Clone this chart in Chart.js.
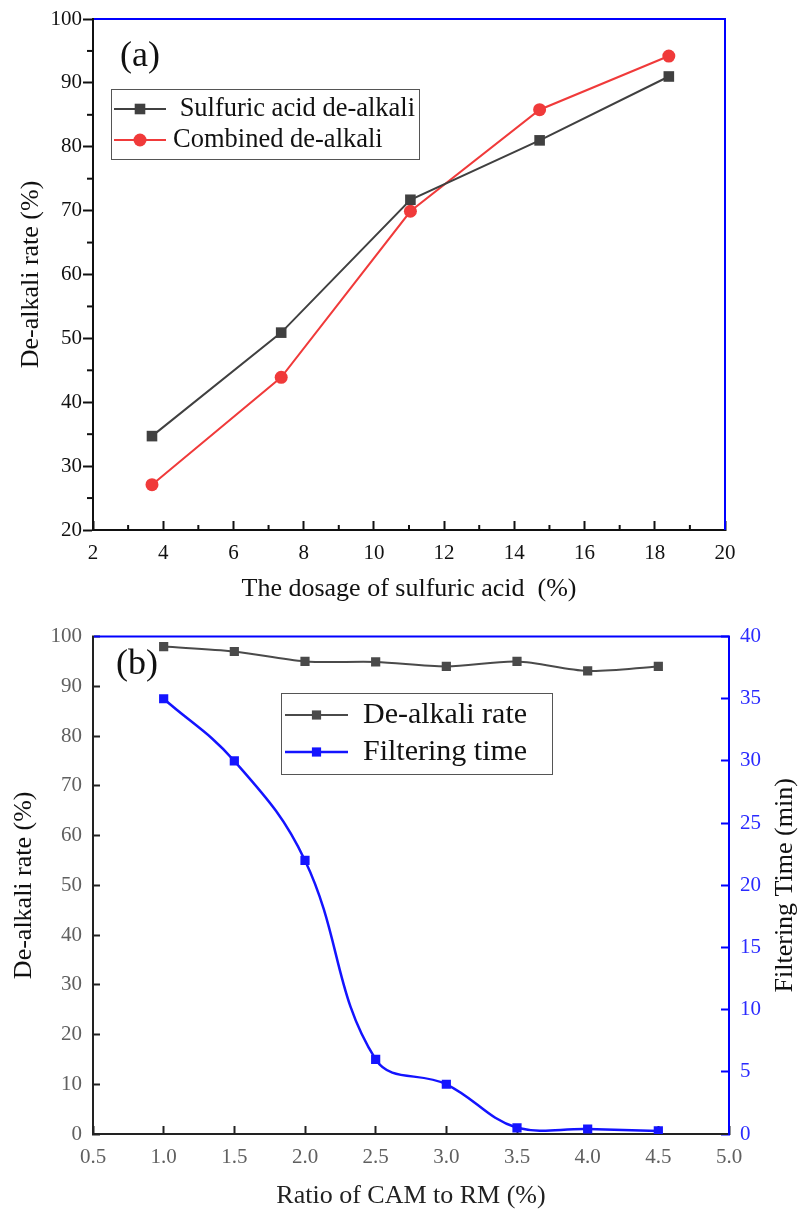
<!DOCTYPE html>
<html>
<head>
<meta charset="utf-8">
<script src="https://cdn.jsdelivr.net/npm/chart.js@4.4.0/dist/chart.umd.min.js"></script>
<style>
html, body { margin: 0; padding: 0; background: #fff; }
canvas { display: block; }
</style>
</head>
<body>
<canvas id="chartA" width="799" height="605"></canvas>
<canvas id="chartB" width="799" height="607"></canvas>
<script>
// (a) de-alkali rate vs sulfuric acid dosage
var dosage = [3.68, 7.36, 11.04, 14.72, 18.4];
var sulfuricRate = [34.7, 50.9, 71.7, 81.0, 91.0];
var combinedRate = [27.1, 43.9, 69.9, 85.8, 94.2];

// (b) de-alkali rate and filtering time vs CAM ratio
var ratio = [1.0, 1.5, 2.0, 2.5, 3.0, 3.5, 4.0, 4.5];
var dealkaliRate = [98.0, 97.0, 95.0, 94.9, 94.0, 95.0, 93.1, 94.0];
var filterTime = [35.0, 30.0, 22.0, 6.0, 4.0, 0.5, 0.4, 0.25];

const serif = "'Liberation Serif', 'Times New Roman', serif";
const blue = '#0000ff';

function points(xs, ys) {
    return xs.map(function(x, i) { return {x: x, y: ys[i]}; });
}

// blue top/right frame lines
const framePlugin = {
    id: 'frame',
    afterDraw(chart, args, opts) {
        const a = chart.chartArea, ctx = chart.ctx;
        ctx.save();
        ctx.strokeStyle = blue;
        ctx.lineWidth = 2;
        ctx.beginPath();
        ctx.moveTo(a.left + 1, a.top);
        ctx.lineTo(a.right, a.top);
        if (opts.right) ctx.lineTo(a.right, a.bottom);
        ctx.stroke();
        ctx.restore();
    }
};

const minorTicks = {
    id: 'minorTicks',
    afterDraw(chart, args, opts) {
        const ctx = chart.ctx, a = chart.chartArea;
        ctx.save();
        ctx.strokeStyle = '#111';
        ctx.lineWidth = 2;
        (opts.axes || []).forEach(function(m) {
            const s = chart.scales[m.id];
            for (let v = m.from; v <= m.to + 1e-9; v += m.step) {
                ctx.beginPath();
                if (s.isHorizontal()) {
                    const x = s.getPixelForValue(v);
                    ctx.moveTo(x, a.bottom);
                    ctx.lineTo(x, a.bottom - m.len);
                } else {
                    const y = s.getPixelForValue(v);
                    ctx.moveTo(a.left, y);
                    ctx.lineTo(a.left - m.len, y);
                }
                ctx.stroke();
            }
        });
        ctx.restore();
    }
};

const boxLegend = {
    id: 'boxLegend',
    afterDraw(chart, args, o) {
        const ctx = chart.ctx;
        ctx.save();
        ctx.fillStyle = '#fff';
        ctx.fillRect(o.x, o.y, o.w, o.h);
        ctx.strokeStyle = '#555';
        ctx.lineWidth = 1;
        ctx.strokeRect(o.x + 0.5, o.y + 0.5, o.w, o.h);
        ctx.font = o.size + 'px ' + serif;
        ctx.textBaseline = 'middle';
        o.rows.forEach(function(r) {
            const ds = chart.data.datasets[r.ds];
            ctx.strokeStyle = ds.borderColor;
            ctx.lineWidth = ds.borderWidth;
            ctx.beginPath();
            ctx.moveTo(o.lineX1, r.y);
            ctx.lineTo(o.lineX2, r.y);
            ctx.stroke();
            const cx = (o.lineX1 + o.lineX2) / 2;
            ctx.fillStyle = ds.pointBackgroundColor;
            ctx.beginPath();
            if (ds.pointStyle === 'circle') {
                ctx.arc(cx, r.y, ds.pointRadius, 0, Math.PI * 2);
            } else {
                const h = ds.pointRadius * Math.SQRT1_2;
                ctx.rect(cx - h, r.y - h, 2 * h, 2 * h);
            }
            ctx.fill();
            ctx.fillStyle = '#111';
            ctx.fillText(r.text, o.textX, r.y);
        });
        ctx.restore();
    }
};

const extraText = {
    id: 'extraText',
    afterDraw(chart, args, opts) {
        const ctx = chart.ctx, a = chart.chartArea;
        ctx.save();
        ctx.fillStyle = '#111';
        ctx.textBaseline = 'middle';
        ctx.textAlign = 'center';
        ctx.font = '36px ' + serif;
        ctx.fillText(opts.panel, opts.panelX, opts.panelY);
        if (opts.rightTitle) {
            ctx.font = '26px ' + serif;
            ctx.translate(opts.rightX, (a.top + a.bottom) / 2);
            ctx.rotate(-Math.PI / 2);
            ctx.fillText(opts.rightTitle, 0, 0);
        }
        ctx.restore();
    }
};

Chart.register(framePlugin, minorTicks, boxLegend, extraText);

new Chart(document.getElementById('chartA'), {
    type: 'line',
    data: {
        datasets: [{
            label: 'Sulfuric acid de-alkali',
            data: points(dosage, sulfuricRate),
            borderColor: '#404040',
            backgroundColor: '#404040',
            pointBackgroundColor: '#404040',
            pointBorderWidth: 0,
            borderWidth: 2,
            pointStyle: 'rect',
            pointRadius: 7.5,
            tension: 0
        }, {
            label: 'Combined de-alkali',
            data: points(dosage, combinedRate),
            borderColor: '#f03a3a',
            backgroundColor: '#f03a3a',
            pointBackgroundColor: '#f03a3a',
            pointBorderWidth: 0,
            borderWidth: 2,
            pointStyle: 'circle',
            pointRadius: 6.5,
            tension: 0
        }]
    },
    options: {
        responsive: false,
        animation: false,
        layout: { padding: { top: 19, right: 74, left: 0, bottom: 0 } },
        plugins: {
            legend: { display: false },
            tooltip: { enabled: false },
            frame: { right: true },
            minorTicks: { axes: [
                { id: 'x', from: 3, to: 19, step: 2, len: 5 },
                { id: 'y', from: 25, to: 95, step: 10, len: 6 }
            ] },
            boxLegend: {
                x: 111, y: 89, w: 308, h: 70, size: 26.5,
                lineX1: 114, lineX2: 166, textX: 173,
                rows: [
                    { ds: 0, y: 109, text: ' Sulfuric acid de-alkali' },
                    { ds: 1, y: 140, text: 'Combined de-alkali' }
                ]
            },
            extraText: { panel: '(a)', panelX: 140, panelY: 57 }
        },
        scales: {
            x: {
                type: 'linear', min: 2, max: 20,
                ticks: { stepSize: 2, color: '#111', padding: 20, font: { family: serif, size: 21 } },
                grid: { drawOnChartArea: false, tickLength: -9, color: '#111', tickWidth: 2 },
                border: { color: '#111', width: 2 },
                title: { display: true, text: 'The dosage of sulfuric acid  (%)', color: '#111',
                         font: { family: serif, size: 26 }, padding: { top: 0, bottom: 0 } },
                afterFit: function(s) { s.height = 75; }
            },
            y: {
                min: 20, max: 100,
                ticks: { stepSize: 10, color: '#111', padding: 1, font: { family: serif, size: 21 } },
                grid: { drawOnChartArea: false, tickLength: 10, color: '#111', tickWidth: 2 },
                border: { color: '#111', width: 2 },
                title: { display: true, text: 'De-alkali rate (%)', color: '#111',
                         font: { family: serif, size: 26 }, padding: { top: 16, bottom: 0 } },
                afterFit: function(s) { s.width = 93; }
            }
        }
    }
});

new Chart(document.getElementById('chartB'), {
    type: 'line',
    data: {
        datasets: [{
            label: 'De-alkali rate',
            data: points(ratio, dealkaliRate),
            yAxisID: 'y',
            borderColor: '#4a4a4a',
            pointBackgroundColor: '#4a4a4a',
            pointBorderWidth: 0,
            borderWidth: 2,
            pointStyle: 'rect',
            pointRadius: 6.5,
            tension: 0.3
        }, {
            label: 'Filtering time',
            data: points(ratio, filterTime),
            yAxisID: 'y1',
            borderColor: '#1414ff',
            pointBackgroundColor: '#1414ff',
            pointBorderWidth: 0,
            borderWidth: 2.5,
            pointStyle: 'rect',
            pointRadius: 6.5,
            tension: 0.4
        }]
    },
    options: {
        responsive: false,
        animation: false,
        layout: { padding: { top: 17, right: 0, left: 0, bottom: 0 } },
        plugins: {
            legend: { display: false },
            tooltip: { enabled: false },
            frame: { right: false },
            boxLegend: {
                x: 281, y: 88, w: 271, h: 81, size: 30,
                lineX1: 285, lineX2: 348, textX: 363,
                rows: [
                    { ds: 0, y: 110, text: 'De-alkali rate' },
                    { ds: 1, y: 147, text: 'Filtering time' }
                ]
            },
            extraText: { panel: '(b)', panelX: 137, panelY: 60,
                         rightTitle: 'Filtering Time (min)', rightX: 785 }
        },
        scales: {
            x: {
                type: 'linear', min: 0.5, max: 5.0,
                ticks: { stepSize: 0.5, color: '#606060', padding: 19, font: { family: serif, size: 21 },
                         callback: function(v) { return v.toFixed(1); } },
                grid: { drawOnChartArea: false, tickLength: -8, color: '#222', tickWidth: 2 },
                border: { color: '#222', width: 2 },
                title: { display: true, text: 'Ratio of CAM to RM (%)', color: '#222',
                         font: { family: serif, size: 26 }, padding: { top: 0, bottom: 0 } },
                afterFit: function(s) { s.height = 78; }
            },
            y: {
                min: 0, max: 100,
                ticks: { stepSize: 10, color: '#606060', padding: 18, font: { family: serif, size: 21 } },
                grid: { drawOnChartArea: false, tickLength: -7, color: '#222', tickWidth: 2 },
                border: { color: '#222', width: 2 },
                title: { display: true, text: 'De-alkali rate (%)', color: '#111',
                         font: { family: serif, size: 26 }, padding: { top: 9, bottom: 0 } },
                afterFit: function(s) { s.width = 93; }
            },
            y1: {
                position: 'right',
                min: 0, max: 40,
                ticks: { stepSize: 5, color: '#2a2aff', padding: 19, font: { family: serif, size: 21 } },
                grid: { drawOnChartArea: false, tickLength: -8, color: blue, tickWidth: 2 },
                border: { color: blue, width: 2 },
                afterFit: function(s) { s.width = 70; }
            }
        }
    }
});
</script>
</body>
</html>
